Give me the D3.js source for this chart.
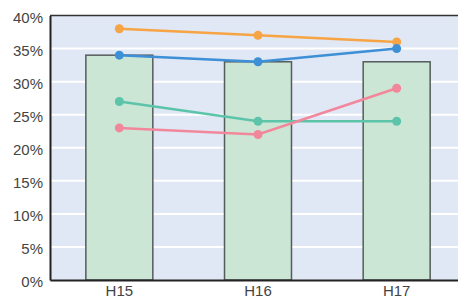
<!DOCTYPE html>
<html><head><meta charset="utf-8">
<script src="https://cdn.jsdelivr.net/npm/d3@7"></script>
<style>html,body{margin:0;padding:0;background:#fff;overflow:hidden}</style>
</head><body>
<svg id="c" width="458" height="299"></svg>
<script>
const categories = ["H15", "H16", "H17"];
const barValues = [34, 33, 33];
const seriesOrange = [38, 37, 36];
const seriesBlue = [34, 33, 35];
const seriesTeal = [27, 24, 24];
const seriesPink = [23, 22, 29];
const yTicks = [0, 5, 10, 15, 20, 25, 30, 35, 40];

const svg = d3.select("#c");
const mLeft = 50, mTop = 15.5, mBottom = 280, mRight = 466;
const x = d3.scaleBand().domain(categories).range([mLeft, mRight]).paddingInner(0.517).paddingOuter(0.2585);
const xc = d => x(d) + x.bandwidth() / 2;
const y = d3.scaleLinear().domain([0, 40]).range([mBottom, mTop]);

svg.append("rect").attr("x", mLeft).attr("y", mTop).attr("width", mRight - mLeft).attr("height", mBottom - mTop).attr("fill", "#e0e7f5");

// grid
svg.append("g").selectAll("line").data(yTicks.slice(1, -1)).join("line")
  .attr("x1", mLeft).attr("x2", mRight).attr("y1", d => y(d)).attr("y2", d => y(d))
  .attr("stroke", "#fff").attr("stroke-width", 2);

// top border
svg.append("line").attr("x1", mLeft).attr("x2", mRight).attr("y1", mTop).attr("y2", mTop).attr("stroke", "#333").attr("stroke-width", 1.5);

// bars
svg.append("g").selectAll("rect").data(barValues).join("rect")
  .attr("x", (d, i) => x(categories[i]))
  .attr("y", d => y(d))
  .attr("width", x.bandwidth())
  .attr("height", d => mBottom - y(d))
  .attr("fill", "#cce6d5").attr("stroke", "#555c5c").attr("stroke-width", 1.5);

// axes
const yAxis = d3.axisLeft(y).tickValues(yTicks).tickFormat(d => d + "%").tickSize(0).tickPadding(7);
const gy = svg.append("g").attr("transform", `translate(${mLeft},0)`).call(yAxis);
gy.select(".domain").attr("stroke", "#222").attr("stroke-width", 2);
gy.selectAll("text").attr("font-family", "Liberation Sans, Arial, sans-serif").attr("font-size", 15).attr("fill", "#444").attr("transform", "translate(0,2)");

const xAxis = d3.axisBottom(x).tickSize(0).tickPadding(5);
const gx = svg.append("g").attr("transform", `translate(0,${mBottom})`).call(xAxis);
gx.select(".domain").attr("stroke", "#222").attr("stroke-width", 2);
gx.selectAll("text").attr("font-family", "Liberation Sans, Arial, sans-serif").attr("font-size", 15).attr("fill", "#444");

const series = [
  {vals: seriesTeal, color: "#5cc4a9"},
  {vals: seriesPink, color: "#f2879b"},
  {vals: seriesOrange, color: "#f7a444"},
  {vals: seriesBlue, color: "#3d8fd6"}
];
const line = d3.line().x((d, i) => xc(categories[i])).y(d => y(d));
series.forEach(s => {
  svg.append("path").datum(s.vals).attr("d", line).attr("fill", "none").attr("stroke", s.color).attr("stroke-width", 2.5);
  svg.append("g").selectAll("circle").data(s.vals).join("circle")
    .attr("cx", (d, i) => xc(categories[i])).attr("cy", d => y(d)).attr("r", 4.5).attr("fill", s.color);
});
</script>
</body></html>
